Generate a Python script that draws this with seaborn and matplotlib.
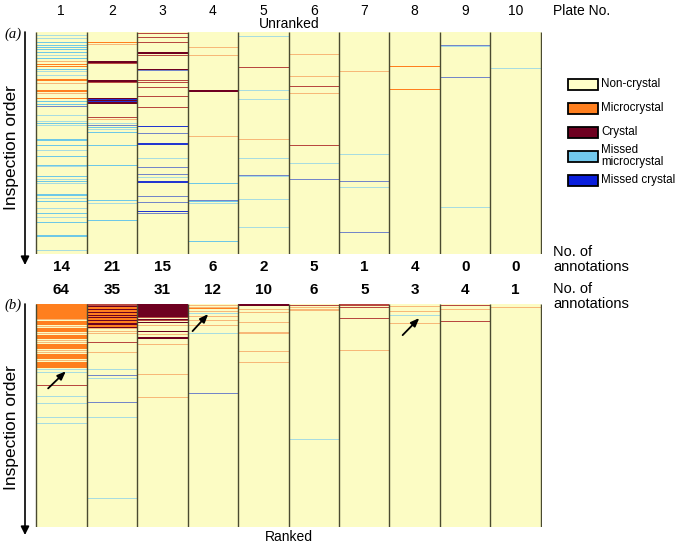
import numpy as np
import seaborn as sns
import matplotlib
matplotlib.use("Agg")
import matplotlib.pyplot as plt
from matplotlib.colors import ListedColormap
from matplotlib.patches import Rectangle, FancyArrowPatch
from matplotlib.transforms import blended_transform_factory

# codes: 0 non-crystal, 1 microcrystal, 2 crystal, 3 missed microcrystal, 4 missed crystal
# 5-8 are the same four classes drawn as faint (thin, blurred) stripes in the original
plates = ['1', '2', '3', '4', '5', '6', '7', '8', '9', '10']
n_rows = 222
unranked_counts = [14, 21, 15, 6, 2, 5, 1, 4, 0, 0]
ranked_counts = [64, 35, 31, 12, 10, 6, 5, 3, 4, 1]

# (row in inspection order, number of rows, code)
unranked = [
    [(3, 1, 7), (6, 1, 7), (10, 1, 3), (13, 1, 3), (15, 1, 3), (17, 1, 3), (20, 1, 3), (23, 1, 7),
     (26, 1, 3), (29, 1, 5), (32, 1, 1), (34, 1, 1), (37, 1, 3), (39, 1, 7), (43, 1, 7), (47, 2, 1),
     (51, 1, 5), (58, 2, 1), (61, 1, 5), (66, 1, 1), (69, 1, 3), (72, 1, 3), (74, 1, 8), (83, 1, 7),
     (89, 1, 7), (91, 1, 3), (93, 1, 7), (107, 2, 3), (113, 1, 3), (118, 1, 7), (124, 1, 3),
     (133, 1, 3), (134, 1, 7), (144, 1, 3), (147, 1, 7), (149, 1, 3), (151, 1, 7), (162, 2, 3),
     (166, 1, 7), (169, 1, 3), (176, 1, 7), (181, 1, 3), (185, 1, 7), (190, 1, 3), (203, 2, 3),
     (218, 1, 7)],
    [(10, 1, 1), (12, 1, 5), (29, 2, 2), (31, 1, 6), (48, 2, 2), (50, 1, 6), (66, 1, 2), (67, 1, 4),
     (68, 1, 2), (69, 1, 4), (70, 1, 2), (71, 1, 2), (85, 1, 6), (87, 1, 5), (91, 1, 7), (93, 1, 8),
     (95, 1, 3), (97, 1, 7), (100, 1, 3), (113, 1, 3), (133, 1, 3), (168, 1, 3), (171, 1, 7),
     (188, 1, 3)],
    [(1, 1, 6), (5, 1, 6), (10, 1, 6), (20, 2, 2), (23, 1, 6), (37, 1, 2), (38, 1, 8), (48, 1, 6),
     (50, 1, 6), (55, 1, 6), (64, 1, 6), (75, 1, 6), (94, 1, 4), (101, 1, 8), (111, 2, 4),
     (126, 1, 7), (135, 1, 8), (142, 1, 8), (145, 1, 7), (149, 2, 4), (164, 1, 8), (170, 1, 8),
     (179, 1, 4), (181, 1, 8)],
    [(15, 1, 5), (23, 1, 5), (58, 2, 2), (104, 1, 5), (151, 1, 3), (168, 1, 8), (169, 1, 3),
     (171, 1, 7), (209, 1, 3)],
    [(4, 1, 7), (35, 1, 6), (58, 1, 7), (67, 1, 7), (107, 1, 5), (126, 1, 7), (143, 1, 8),
     (144, 1, 7), (167, 1, 7), (195, 1, 7)],
    [(22, 1, 5), (44, 1, 5), (54, 1, 6), (61, 1, 5), (113, 1, 6), (131, 1, 7), (147, 1, 8)],
    [(39, 1, 5), (122, 1, 7), (149, 1, 8), (155, 1, 7), (200, 1, 8)],
    [(34, 1, 1), (57, 1, 1)],
    [(13, 1, 8), (14, 1, 7), (45, 1, 8), (175, 1, 7)],
    [(36, 1, 7)],
]

ranked = [
    [(0, 15, 1), (15, 1, 5), (17, 4, 1), (22, 1, 5), (24, 4, 1), (29, 1, 5), (31, 4, 1), (36, 1, 5),
     (38, 1, 5), (40, 5, 1), (46, 1, 5), (48, 1, 5), (50, 5, 1), (56, 1, 5), (58, 6, 1), (65, 1, 7),
     (68, 1, 7), (81, 1, 6), (92, 1, 7), (99, 1, 7), (112, 1, 7), (118, 1, 7)],
    [(0, 2, 6), (2, 1, 2), (3, 2, 1), (5, 1, 2), (6, 2, 1), (8, 1, 2), (9, 2, 1), (11, 1, 2),
     (12, 1, 1), (13, 1, 2), (14, 2, 1), (16, 1, 2), (17, 2, 1), (19, 2, 2), (21, 2, 1), (23, 1, 2),
     (24, 1, 5), (27, 1, 5), (29, 1, 5), (38, 1, 6), (48, 1, 5), (65, 1, 7), (71, 1, 8), (74, 1, 7),
     (98, 1, 8), (112, 1, 7), (193, 1, 7)],
    [(0, 13, 2), (13, 1, 6), (15, 1, 2), (16, 1, 6), (18, 1, 2), (21, 1, 5), (27, 1, 2), (30, 1, 5),
     (33, 2, 2), (40, 1, 5), (70, 1, 5), (93, 1, 5)],
    [(1, 1, 5), (3, 1, 5), (4, 1, 1), (7, 1, 5), (9, 1, 7), (12, 1, 5), (16, 1, 5), (21, 1, 5),
     (29, 1, 7), (89, 1, 8)],
    [(0, 2, 2), (5, 1, 5), (8, 1, 5), (18, 1, 5), (28, 1, 5), (29, 1, 5), (47, 1, 5), (58, 1, 5)],
    [(1, 1, 6), (3, 1, 5), (5, 1, 5), (6, 1, 5), (134, 1, 7)],
    [(0, 2, 6), (3, 1, 6), (14, 1, 6), (46, 1, 5)],
    [(2, 1, 5), (7, 1, 5), (11, 1, 7), (19, 1, 5)],
    [(1, 1, 6), (5, 1, 5), (17, 1, 6)],
    [(3, 1, 5)],
]

classes = ['Non-crystal', 'Microcrystal', 'Crystal', 'Missed\nmicrocrystal', 'Missed crystal']
colors = ['#fcfcc4', '#ff7f1e', '#6e0020', '#6ec8e6', '#2236d0',
          '#f7b878', '#b84840', '#a8dce0', '#7486c8']
legend_colors = ['#ffffc8', '#ff7f1e', '#6e0020', '#72c8ec', '#0a1edc']


def build(stripes):
    mat = np.zeros((n_rows, len(plates)))
    for j, plate in enumerate(stripes):
        for row, n, code in plate:
            mat[row:row + n, j] = code
    return mat


plt.rcParams['font.family'] = ['Liberation Sans', 'DejaVu Sans']
fig = plt.figure(figsize=(6.77, 5.43), dpi=100)
W, H = 677, 543
cmap = ListedColormap(colors)


def fx(px):
    return px / W


def fy(py):
    return 1 - py / H


ax_a = fig.add_axes([fx(35), fy(254), fx(542) - fx(35), fy(32) - fy(254)])
ax_b = fig.add_axes([fx(35), fy(527), fx(542) - fx(35), fy(304) - fy(527)])

for ax, stripes in [(ax_a, unranked), (ax_b, ranked)]:
    sns.heatmap(build(stripes), ax=ax, cmap=cmap, vmin=-0.5, vmax=8.5, cbar=False,
                xticklabels=False, yticklabels=False)
    ax.vlines(np.arange(len(plates) + 1), 0, n_rows, color='#4a4a30', lw=1.0)
    ax.set_xlim(-0.02, len(plates) + 0.02)
    for s in ax.spines.values():
        s.set_visible(False)

ta = blended_transform_factory(ax_a.transData, ax_a.transAxes)
tb = blended_transform_factory(ax_b.transData, ax_b.transAxes)
for i, p in enumerate(plates):
    ax_a.text(i + 0.5, 1.095, p, transform=ta, ha='center', va='center', fontsize=10)
    ax_a.text(i + 0.5, -0.057, str(unranked_counts[i]), transform=ta, ha='center', va='center',
              fontsize=11, fontweight='bold')
    ax_b.text(i + 0.5, 1.065, str(ranked_counts[i]), transform=tb, ha='center', va='center',
              fontsize=11, fontweight='bold')

fig.text(fx(553), fy(11), 'Plate No.', ha='left', va='center', fontsize=10)
fig.text(fx(289), fy(31), 'Unranked', ha='center', va='bottom', fontsize=10)
fig.text(fx(289), fy(530), 'Ranked', ha='center', va='top', fontsize=10)
for y1 in [252, 289]:
    fig.text(fx(553), fy(y1), 'No. of', ha='left', va='center', fontsize=10.5)
    fig.text(fx(553), fy(y1 + 15), 'annotations', ha='left', va='center', fontsize=10.5)

fig.text(fx(4), fy(34), '(a)', ha='left', va='center', fontsize=10.5, style='italic',
         family=['Liberation Serif'])
fig.text(fx(4), fy(305), '(b)', ha='left', va='center', fontsize=10.5, style='italic',
         family=['Liberation Serif'])

for y0, y1, yc in [(32, 265, 148), (304, 535, 428)]:
    fig.add_artist(FancyArrowPatch((fx(25), fy(y0)), (fx(25), fy(y1)), transform=fig.transFigure,
                                   arrowstyle='-|>,head_length=5,head_width=2.5', color='black',
                                   lw=1.2, shrinkA=0, shrinkB=0))
    fig.text(fx(12), fy(yc), 'Inspection order', rotation=90, ha='center', va='center',
             fontsize=12.5)

# arrows marking the first missed hit in the ranked panel
for tail, head in [((0.24, 84), (0.59, 67)), ((3.10, 27), (3.41, 10)), ((7.26, 31), (7.59, 14))]:
    ax_b.annotate('', xy=head, xytext=tail,
                  arrowprops=dict(arrowstyle='-|>,head_length=0.5,head_width=0.2', color='black',
                                  lw=1.3, shrinkA=0, shrinkB=0))

# legend drawn as boxes beside the panels
for i, (label, c) in enumerate(zip(classes, legend_colors)):
    yc = 84 + 24 * i
    fig.add_artist(Rectangle((fx(568), fy(yc + 5.5)), fx(30), 11 / H, transform=fig.transFigure,
                             facecolor=c, edgecolor='black', lw=1.3))
    fig.text(fx(601), fy(yc), label, ha='left', va='center', fontsize=8.4, linespacing=0.95)

fig.savefig('out.png', dpi=100)
